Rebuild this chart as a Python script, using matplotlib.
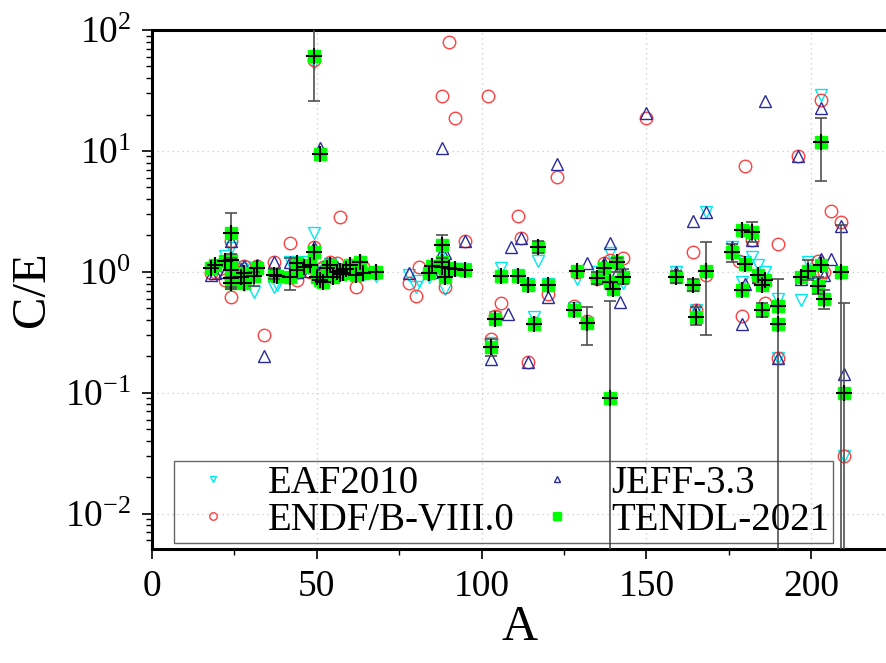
import numpy as np
import matplotlib
matplotlib.use("Agg")
import matplotlib.pyplot as plt
from matplotlib.ticker import FixedLocator, FuncFormatter, LogLocator, NullFormatter

nan = np.nan

# mass number of every measured reaction (several reactions can share one A)
mass_number = [
    18, 19, 22, 24, 24, 24, 24, 24, 27, 28, 28, 31, 32, 34, 37, 38, 42, 44, 44, 46,
    48, 49, 49, 50, 51, 51, 52, 53, 54, 55, 56, 57, 57, 58, 59, 60, 62, 63, 64, 68,
    78, 80, 81, 84, 85, 88, 88, 88, 89, 90, 92, 95, 102, 103, 104, 106, 108, 109, 111, 112,
    114, 116, 117, 120, 123, 128, 129, 132, 135, 137, 139, 139, 140, 141, 142, 143,
    150, 159, 164, 165, 168, 176, 178, 179, 180, 179, 182, 184, 186, 185, 185, 190, 190,
    196, 197, 199, 202, 203, 203, 204, 206, 209, 210,
]

# C/E per library
eaf2010 = [
    1.05, 1.12, 1.35, 1.58, 1.10, 0.90, 0.95, nan, 1.05, 1.10, 0.78, 0.68, 1.05, nan, 0.75, 0.78, 1.20, 1.15, 1.00, 1.20,
    1.10, 2.10, 53.0, 1.00, nan, 0.90, 1.05, 1.10, 1.15, 0.95, 1.00, 1.00, 0.97, 1.00, 0.97, 1.10, 0.98, 1.15, 0.95, 0.92,
    0.95, 0.75, 0.84, 0.90, 1.00, 1.50, 1.20, 1.15, 0.72, 1.00, 1.05, 1.05, nan, 0.26, 0.42, 1.08, nan, nan, 0.95, nan,
    0.80, 0.42, 1.23, 0.80, nan, 0.50, 0.88, 0.38, 1.00, 1.00, 1.43, nan, 0.72, 0.81, nan, 0.81,
    nan, 1.00, nan, 0.48, 3.10, 1.60, nan, 0.83, 1.20, nan, 1.33, 1.14, 1.00, 0.80, nan, 0.195, 0.60,
    nan, 0.58, 1.21, nan, 29.0, 0.81, 0.60, nan, nan, 0.03,
]
endf_b80 = [
    0.97, 1.00, 0.86, 1.80, 0.62, 1.10, 0.90, nan, 1.00, 1.12, 0.85, nan, 1.12, 0.30, 1.21, 0.95, 1.74, 0.86, 1.00, 1.10,
    1.00, 1.60, 56.0, 0.95, nan, 0.88, 1.10, 1.05, 1.20, 1.00, 1.19, 2.85, 1.00, 1.02, 1.05, 1.14, 0.75, 1.20, 1.10, 1.00,
    0.81, 0.63, 1.10, 1.00, 1.05, 1.21, 28.5, 1.10, 0.75, 80.0, 18.8, 1.80, 28.5, 0.28, 0.43, 0.55, nan, nan, 2.90, 1.90,
    0.18, 0.38, nan, 0.65, 6.10, 0.52, 1.00, 0.39, 0.88, 1.19, 1.26, nan, nan, nan, nan, 1.30,
    18.8, 0.93, 1.46, 0.48, 0.94, nan, 1.23, 0.43, 7.50, nan, 1.84, 0.90, 0.55, 0.86, nan, 0.195, 1.70,
    9.10, nan, 1.00, 1.23, 26.4, 1.00, 1.00, 3.20, 2.60, 0.03,
]
jeff33 = [
    0.95, 0.98, 1.00, 1.80, 0.95, 1.00, nan, nan, 1.05, 1.12, nan, 1.10, 1.14, 0.20, 1.21, nan, 1.21, 1.00, 1.00, 1.10,
    1.02, 1.60, nan, 1.00, 10.6, 0.90, 1.10, 1.15, 1.18, 1.00, 1.10, 1.05, 1.00, 1.00, 1.00, 1.10, 1.00, 1.20, 1.05, 1.00,
    0.98, nan, nan, 1.00, 1.00, 1.46, 10.6, 1.10, 1.43, nan, 1.05, 1.80, nan, 0.19, nan, nan, 0.45, 1.60, nan, 1.90,
    0.18, nan, nan, 0.62, 7.80, nan, nan, 1.19, nan, 1.19, 1.74, nan, nan, 1.00, 0.56, 1.00,
    20.6, 1.00, 2.65, 0.48, 3.10, 1.60, nan, 0.37, 0.80, nan, 1.84, 0.90, 25.9, 0.90, nan, 0.195, nan,
    9.10, 0.87, 1.00, nan, 22.7, 1.28, 0.95, 1.28, 2.40, 0.144,
]
tendl2021 = [
    1.08, 1.14, 1.22, 2.10, 1.26, 1.04, 0.89, 0.81, 0.91, 0.98, 0.81, 0.93, 1.08, nan, 0.95, 0.93, 0.91, 1.19, 1.04, 1.10,
    1.14, 1.46, 61.0, 0.91, 9.40, 0.86, 0.83, 1.08, 1.14, 0.91, 1.00, 0.96, 1.02, 0.98, 1.05, 1.14, 0.95, 1.21, 0.98, 1.00,
    nan, nan, nan, 0.98, 1.12, 1.67, 1.21, 1.10, 0.91, 1.08, 1.06, 1.04, nan, 0.24, 0.41, 0.93, nan, nan, 0.93, nan,
    0.78, 0.37, 1.61, 0.78, nan, 0.48, 1.02, 0.38, 0.89, 1.08, 0.83, 0.091, 0.72, 1.21, nan, 0.91,
    nan, 0.91, 0.78, 0.42, 1.02, 1.46, nan, 0.71, 1.16, 2.22, 2.14, 0.94, 0.86, 0.78, 0.48, 0.52, 0.37,
    nan, 0.91, 1.02, 0.77, 11.9, 1.14, 0.60, nan, 1.00, 0.10,
]
# ends of the TENDL-2021 uncertainty bars (C/E); nan where no bar is drawn
tendl_low = [
    nan, nan, nan, 1.40, nan, 0.75, nan, 0.72, nan, nan, nan, 0.77, nan, nan, 0.88, nan, 0.71, nan, nan, nan,
    nan, nan, 26.0, nan, nan, nan, nan, nan, nan, nan, nan, nan, nan, nan, nan, nan, nan, nan, nan, nan,
    nan, nan, nan, nan, nan, 1.30, nan, nan, nan, nan, nan, nan, nan, 0.20, nan, nan, nan, nan, nan, nan,
    nan, nan, 1.43, nan, nan, nan, nan, 0.25, 0.80, nan, nan, 1e-4, nan, 1.00, nan, 0.80,
    nan, 0.81, 0.69, 0.36, 0.30, 1.21, nan, nan, nan, nan, 1.77, nan, nan, nan, 0.42, 1e-4, nan,
    nan, nan, 0.85, 0.65, 5.6, nan, 0.49, nan, 1e-4, 1e-4,
]
tendl_high = [
    nan, nan, nan, 3.07, nan, 1.30, nan, 0.90, nan, nan, nan, 1.00, nan, nan, 1.05, nan, 1.30, nan, nan, nan,
    nan, nan, 150.0, nan, nan, nan, nan, nan, nan, nan, nan, nan, nan, nan, nan, nan, nan, nan, nan, nan,
    nan, nan, nan, nan, nan, 2.00, nan, nan, nan, nan, nan, nan, nan, 0.28, nan, nan, nan, nan, nan, nan,
    nan, nan, 1.80, nan, nan, nan, nan, 0.51, 1.00, nan, nan, 0.57, nan, 1.30, nan, 1.05,
    nan, 1.02, 0.88, 0.51, 1.77, 1.70, nan, nan, nan, nan, 2.60, nan, nan, nan, 0.55, 0.87, nan,
    nan, nan, 1.26, 0.90, 18.8, nan, 0.71, nan, 2.45, 0.55,
]

plt.rcParams["font.family"] = ["Liberation Serif", "DejaVu Serif"]
plt.rcParams["mathtext.fontset"] = "custom"
plt.rcParams["mathtext.rm"] = "Liberation Serif"

fig = plt.figure(figsize=(8.87, 6.63), dpi=100)
ax = fig.add_axes([152 / 887, 1 - 549 / 663, (887 - 152) / 887, (549 - 30) / 663])

A = np.array(mass_number, dtype=float)
tendl = np.array(tendl2021)
low = np.array(tendl_low)
high = np.array(tendl_high)

# library points, TENDL on top
ax.plot(A, eaf2010, linestyle="none", marker="v", ms=8, mfc="none",
        mec="#00e8f0", mew=1.0, label="EAF2010", zorder=3)
ax.plot(A, endf_b80, linestyle="none", marker="o", ms=9, mfc="none",
        mec="#ff4040", mew=1.0, label="ENDF/B-VIII.0", zorder=3)
ax.plot(A, jeff33, linestyle="none", marker="^", ms=8, mfc="none",
        mec="#2a2a9a", mew=1.0, label="JEFF-3.3", zorder=3)
ax.plot(A, tendl, linestyle="none", marker="s", ms=8.5, mfc="#00ff00",
        mec="#00ff00", label="TENDL-2021", zorder=4)

# uncertainty bars and centre crosses of TENDL
has_err = ~np.isnan(low)
ax.errorbar(A[has_err], tendl[has_err],
            yerr=[tendl[has_err] - low[has_err], high[has_err] - tendl[has_err]],
            fmt="none", ecolor="#505050", elinewidth=1.2, capsize=4.5, capthick=1.2,
            zorder=5)
ax.plot(A, tendl, linestyle="none", marker="+", ms=11, mew=1.5, color="black", zorder=6)

ax.set_yscale("log")
ax.set_xlim(0, 223)
ax.set_ylim(0.0051, 100)

ax.xaxis.set_major_locator(FixedLocator([0, 50, 100, 150, 200]))
ax.xaxis.set_minor_locator(FixedLocator([25, 75, 125, 175]))
ax.yaxis.set_major_locator(FixedLocator([1e-2, 1e-1, 1e0, 1e1, 1e2]))
ax.yaxis.set_minor_locator(LogLocator(base=10, subs=np.arange(2, 10)))
ax.yaxis.set_minor_formatter(NullFormatter())
ax.yaxis.set_major_formatter(
    FuncFormatter(lambda v, _: r"$\mathregular{10^{%d}}$" % round(np.log10(v))))

ax.tick_params(which="major", direction="out", length=7, width=1.2,
               labelsize=27, pad=8)
ax.tick_params(which="minor", direction="out", length=4, width=1.0)
ax.tick_params(axis="y", which="both", right=False)

for side in ("left", "top", "bottom"):
    ax.spines[side].set_linewidth(2.2)
ax.spines["right"].set_visible(False)

ax.grid(True, which="major", color="#c8c8c8", linestyle=(0, (1, 3)), linewidth=0.9)

ax.set_xlabel("A", fontsize=36, labelpad=0)
ax.set_ylabel("C/E", fontsize=35, labelpad=8)

legend = ax.legend(loc="lower left", bbox_to_anchor=(0.03, 0.012), ncol=2,
                   borderaxespad=0, fontsize=28, markerscale=0.6, frameon=True,
                   fancybox=False, edgecolor="#404040", facecolor="none",
                   borderpad=0.1, labelspacing=0.0, handletextpad=0.5,
                   columnspacing=0.2, handlelength=1.8)
legend.get_frame().set_linewidth(1.0)

fig.savefig("out.png", dpi=100)
